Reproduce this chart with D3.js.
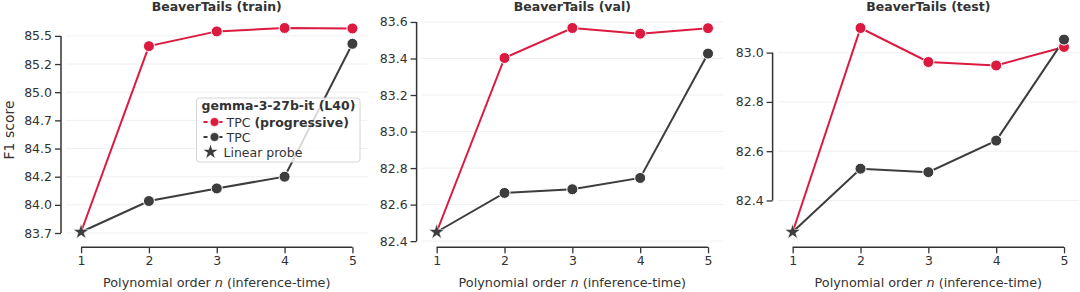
<!DOCTYPE html>
<html>
<head>
<meta charset="utf-8">
<script src="https://cdn.jsdelivr.net/npm/d3@7"></script>
<style>
  body { margin: 0; background: #fff; }
  svg, svg text { font-family: "DejaVu Sans", sans-serif; }
</style>
</head>
<body>
<script>
// data
var orders = [1, 2, 3, 4, 5];
var panels = ["BeaverTails (train)", "BeaverTails (val)", "BeaverTails (test)"];
var linearProbe = [83.709, 82.45, 82.272];
// n = 2..5
var tpcProgressive = [
  [85.359, 85.49, 85.52, 85.516],
  [83.403, 83.567, 83.536, 83.566],
  [83.10, 82.962, 82.948, 83.023]
];
var tpcPlain = [
  [83.984, 84.096, 84.20, 85.38],
  [82.664, 82.684, 82.746, 83.427],
  [82.529, 82.515, 82.643, 83.053]
];
var yTicks = [
  [83.7, 83.95, 84.2, 84.45, 84.7, 84.95, 85.2, 85.45],
  [82.4, 82.6, 82.8, 83.0, 83.2, 83.4, 83.6],
  [82.4, 82.6, 82.8, 83.0]
];
var yTickLabels = [
  ["83.7", "84.0", "84.2", "84.5", "84.7", "85.0", "85.2", "85.5"],
  ["82.4", "82.6", "82.8", "83.0", "83.2", "83.4", "83.6"],
  ["82.4", "82.6", "82.8", "83.0"]
];

var W = 1080, H = 292;
var red = "#dc1a40", dark = "#3d3d3d", ink = "#333";
var axLeft = [66, 421.6, 777.6], axW = 301.5, axTop = 17.8, axBot = 242.2, off = 5;

var svg = d3.select("body").append("svg").attr("width", W).attr("height", H);

var star = d3.symbol().type(d3.symbolStar).size(75);
var smallStar = d3.symbol().type(d3.symbolStar).size(60);

panels.forEach(function(title, p) {
  var g = svg.append("g");
  var x = d3.scaleLinear().domain([1, 5]).range([axLeft[p] + axW * 0.05, axLeft[p] + axW * 0.95]);
  var allV = [linearProbe[p]].concat(tpcProgressive[p], tpcPlain[p]);
  var ext = d3.extent(allV), pad = (ext[1] - ext[0]) * 0.05;
  var y = d3.scaleLinear().domain([ext[0] - pad, ext[1] + pad]).range([axBot, axTop]);

  // faint grid
  g.selectAll(".grid").data(yTicks[p]).enter().append("line")
    .attr("x1", axLeft[p]).attr("x2", axLeft[p] + axW)
    .attr("y1", function(d) { return y(d); }).attr("y2", function(d) { return y(d); })
    .attr("stroke", "#ececec").attr("stroke-width", 0.8);

  // y axis (trimmed, offset)
  var yAxis = d3.axisLeft(y).tickValues(yTicks[p]).tickSize(6).tickPadding(3)
    .tickFormat(function(d, i) { return yTickLabels[p][i]; });
  var ya = g.append("g").attr("transform", "translate(" + (axLeft[p] - off) + ",0)").call(yAxis);
  ya.select(".domain").remove();
  ya.append("line").attr("x1", 0).attr("x2", 0)
    .attr("y1", y(d3.min(yTicks[p]))).attr("y2", y(d3.max(yTicks[p])))
    .attr("stroke", ink).attr("stroke-width", 1.5);

  var xAxis = d3.axisBottom(x).tickValues(orders).tickSize(6).tickPadding(3).tickFormat(d3.format("d"));
  var xa = g.append("g").attr("transform", "translate(0," + (axBot + off) + ")").call(xAxis);
  xa.select(".domain").remove();
  xa.append("line").attr("x1", x(1)).attr("x2", x(5)).attr("y1", 0).attr("y2", 0)
    .attr("stroke", ink).attr("stroke-width", 1.5);

  [ya, xa].forEach(function(a) {
    a.attr("font-family", "DejaVu Sans, sans-serif");
    a.selectAll(".tick line").attr("stroke", ink).attr("stroke-width", 1.3);
    a.selectAll(".tick text").attr("fill", ink).style("font-size", "12.5px");
  });

  // x label
  var xl = g.append("text").attr("x", (x(1) + x(5)) / 2).attr("y", 287)
    .attr("text-anchor", "middle").attr("fill", ink).style("font-size", "12.8px");
  xl.append("tspan").text("Polynomial order ");
  xl.append("tspan").attr("font-style", "italic").text("n");
  xl.append("tspan").text(" (inference-time)");

  g.append("text").attr("x", axLeft[p] + axW / 2).attr("y", 11)
    .attr("text-anchor", "middle").attr("font-weight", "bold").attr("fill", ink)
    .style("font-size", "12.5px").text(title);

  var line = d3.line().x(function(d) { return x(d[0]); }).y(function(d) { return y(d[1]); });
  var seriesRed = [[1, linearProbe[p]]].concat(tpcProgressive[p].map(function(v, i) { return [orders[i + 1], v]; }));
  var seriesDark = [[1, linearProbe[p]]].concat(tpcPlain[p].map(function(v, i) { return [orders[i + 1], v]; }));

  g.append("path").datum(seriesRed).attr("d", line).attr("fill", "none")
    .attr("stroke", red).attr("stroke-width", 2);
  g.append("path").datum(seriesDark).attr("d", line).attr("fill", "none")
    .attr("stroke", dark).attr("stroke-width", 2);

  g.selectAll(".dr").data(seriesRed.slice(1)).enter().append("circle")
    .attr("cx", function(d) { return x(d[0]); }).attr("cy", function(d) { return y(d[1]); })
    .attr("r", 5.5).attr("fill", red).attr("stroke", "#fff").attr("stroke-width", 1);
  g.selectAll(".dd").data(seriesDark.slice(1)).enter().append("circle")
    .attr("cx", function(d) { return x(d[0]); }).attr("cy", function(d) { return y(d[1]); })
    .attr("r", 5.5).attr("fill", dark).attr("stroke", "#fff").attr("stroke-width", 1);

  g.append("path").attr("d", star)
    .attr("transform", "translate(" + x(1) + "," + y(linearProbe[p]) + ")")
    .attr("fill", dark).attr("stroke", "#fff").attr("stroke-width", 0.5);
});

// y label
svg.append("text").attr("transform", "translate(14,130) rotate(-90)")
  .attr("text-anchor", "middle").attr("fill", ink).style("font-size", "14px").text("F1 score");

// legend
var lg = svg.append("g").attr("transform", "translate(196.5,98)");
lg.append("rect").attr("width", 163.5).attr("height", 64).attr("rx", 3)
  .attr("fill", "#fff").attr("fill-opacity", 0.8).attr("stroke", "#d6d6d6").attr("stroke-width", 1);
lg.append("text").attr("x", 82).attr("y", 12).attr("text-anchor", "middle")
  .attr("font-weight", "bold").attr("fill", ink).style("font-size", "12.5px").text("gemma-3-27b-it (L40)");
var legItems = [
  { c: red, label: "TPC ", bold: "(progressive)", m: "circle" },
  { c: dark, label: "TPC", bold: "", m: "circle" },
  { c: dark, label: "Linear probe", bold: "", m: "star" }
];
legItems.forEach(function(it, i) {
  var yy = 24 + i * 15;
  var e = lg.append("g").attr("transform", "translate(0," + yy + ")");
  if (it.m === "circle") {
    e.append("line").attr("x1", 7).attr("x2", 29).attr("y1", 0).attr("y2", 0)
      .attr("stroke", it.c).attr("stroke-width", 2).attr("stroke-dasharray", "4,3.5");
    e.append("circle").attr("cx", 18).attr("cy", 0).attr("r", 4.5).attr("fill", it.c)
      .attr("stroke", "#fff").attr("stroke-width", 0.8);
  } else {
    e.append("path").attr("d", smallStar).attr("transform", "translate(14,0)").attr("fill", it.c);
  }
  var t = e.append("text").attr("x", it.m === "star" ? 27 : 30).attr("y", 4.5).attr("fill", ink)
    .style("font-size", "12.5px");
  t.append("tspan").text(it.label);
  if (it.bold) t.append("tspan").attr("font-weight", "bold").text(it.bold);
});
</script>
</body>
</html>
